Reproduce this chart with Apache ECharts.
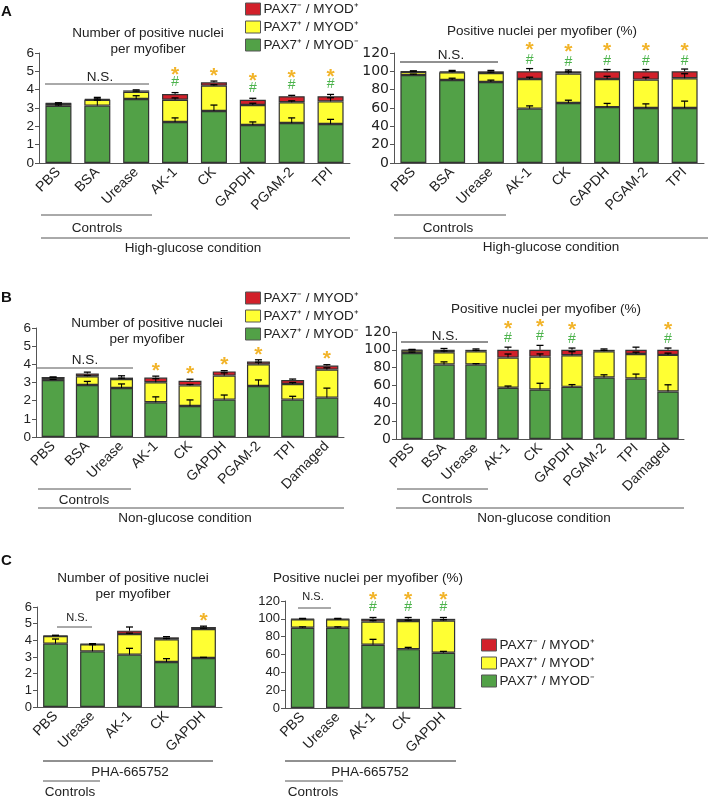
<!DOCTYPE html>
<html><head><meta charset="utf-8">
<script src="https://cdn.jsdelivr.net/npm/echarts@6/dist/echarts.min.js"></script>
<style>html,body{margin:0;padding:0;background:#fff}#c{width:708px;height:800px}</style>
</head><body><div id="c"></div>
<script>
const NAME_R = 'PAX7⁻ / MYOD⁺';
const NAME_Y = 'PAX7⁺ / MYOD⁺';
const NAME_G = 'PAX7⁺ / MYOD⁻';

// categories
const catsHighGlucose = ['PBS','BSA','Urease','AK-1','CK','GAPDH','PGAM-2','TPI'];
const catsNonGlucose = ['PBS','BSA','Urease','AK-1','CK','GAPDH','PGAM-2','TPI','Damaged'];
const catsPHA = ['PBS','Urease','AK-1','CK','GAPDH'];

// tick settings
const numTicks = [0,1,2,3,4,5,6];
const pctTicks = [0,20,40,60,80,100,120];

// Panel A, number per myofiber
const aNumGreen  = [3.12,3.13,3.49,2.24,2.84,2.07,2.18,2.13];
const aNumYellow = [0.12,0.32,0.40,1.21,1.38,1.09,1.13,1.23];
const aNumRed    = [0.02,0.05,0.07,0.31,0.18,0.29,0.33,0.28];
const aNumGreenErr  = [0.05,0.30,0.18,0.22,0.32,0.17,0.28,0.25];
const aNumYellowErr = [0.03,0.05,0.03,0.10,0.05,0.10,0.08,0.20];
const aNumRedErr    = [0.02,0.08,0.03,0.08,0.07,0.08,0.05,0.10];
const aNumStar = [0,0,0,1,1,1,1,1];
const aNumHash = [0,0,0,1,0,1,1,1];

// Panel A, percent
const aPctGreen  = [96.0,90.5,88.4,59.3,65.5,61.0,60.0,60.0];
const aPctYellow = [3.6,8.5,9.8,32.3,32.0,30.6,31.0,32.4];
const aPctRed    = [0.4,1.0,1.8,8.4,2.5,8.4,9.0,7.6];
const aPctGreenErr  = [1,2,2,3,3,4,4.5,7.5];
const aPctYellowErr = [0.5,1,1,2,2,3,2.5,5];
const aPctRedErr    = [0.5,1,1,3,1.5,2,2,2.5];
const aPctStar = [0,0,0,1,1,1,1,1];
const aPctHash = [0,0,0,1,1,1,1,1];

// Panel B, number per myofiber
const bNumGreen  = [3.14,2.86,2.70,1.91,1.71,2.06,2.81,2.06,2.17];
const bNumYellow = [0.13,0.48,0.49,1.10,1.13,1.32,1.19,0.86,1.54];
const bNumRed    = [0.01,0.15,0.08,0.26,0.26,0.23,0.15,0.22,0.22];
const bNumGreenErr  = [0.03,0.20,0.22,0.30,0.33,0.25,0.33,0.18,0.52];
const bNumYellowErr = [0.02,0.05,0.05,0.20,0.05,0.15,0.12,0.08,0.10];
const bNumRedErr    = [0.02,0.08,0.10,0.08,0.08,0.04,0.10,0.05,0.05];
const bNumStar = [0,0,0,1,1,1,1,0,1];
const bNumHash = [0,0,0,0,0,0,0,0,0];

// Panel B, percent
const bPctGreen  = [96.5,83.5,83.5,57.4,55.5,58.5,69.0,67.8,53.3];
const bPctYellow = [3.0,13.8,14.9,33.9,36.9,35.4,29.4,27.6,41.0];
const bPctRed    = [0.5,2.7,1.6,8.7,7.6,6.1,1.6,4.6,5.7];
const bPctGreenErr  = [1,3,1,2,7,2.5,3,5,7.5];
const bPctYellowErr = [0.5,1.5,1,4,3,4,1,2,2];
const bPctRedErr    = [0.5,1.5,1,3,5,2,1,3,2];
const bPctStar = [0,0,0,1,1,1,0,0,1];
const bPctHash = [0,0,0,1,1,1,0,0,1];

// Panel C, number per myofiber
const cNumGreen  = [3.80,3.34,3.14,2.70,2.94];
const cNumYellow = [0.46,0.42,1.24,1.36,1.74];
const cNumRed    = [0.02,0.02,0.20,0.12,0.12];
const cNumGreenErr  = [0.28,0.40,0.38,0.20,0.04];
const cNumYellowErr = [0.03,0.02,0.05,0.05,0.05];
const cNumRedErr    = [0.02,0.02,0.22,0.04,0.05];
const cNumStar = [0,0,0,0,1];
const cNumHash = [0,0,0,0,0];

// Panel C, percent
const cPctGreen  = [90,90,71,66,62];
const cPctYellow = [9.5,9.5,26,31.5,36];
const cPctRed    = [0.5,0.5,3,2.5,2];
const cPctGreenErr  = [1,1,6,2,1.5];
const cPctYellowErr = [0.5,0.5,1,1,1];
const cPctRedErr    = [0.5,0.5,1.5,1.5,1.5];
const cPctStar = [0,0,1,1,1];
const cPctHash = [0,0,1,1,1];

const FONT = '"Liberation Sans", Arial, Helvetica, sans-serif';
const WIDE = '"DejaVu Sans", Verdana, sans-serif';
const C_RED = '#d2202a', C_YEL = '#ffff33', C_GRN = '#52a147';
const C_STAR = '#f2b42a', C_HASH = '#4cb34c';

const panels = [
  {cats:catsHighGlucose, g:aNumGreen, y:aNumYellow, r:aNumRed, ge:aNumGreenErr, ye:aNumYellowErr, re:aNumRedErr, star:aNumStar, hash:aNumHash, ticks:numTicks,
   grid:{left:39, top:53, width:311, height:110}, gap1:10, gap2:12, yFont:FONT, ySize:13.5},
  {cats:catsHighGlucose, g:aPctGreen, y:aPctYellow, r:aPctRed, ge:aPctGreenErr, ye:aPctYellowErr, re:aPctRedErr, star:aPctStar, hash:aPctHash, ticks:pctTicks,
   grid:{left:394, top:53, width:310, height:110}, gap1:8, gap2:15, yFont:WIDE, ySize:14},
  {cats:catsNonGlucose, g:bNumGreen, y:bNumYellow, r:bNumRed, ge:bNumGreenErr, ye:bNumYellowErr, re:bNumRedErr, star:bNumStar, hash:bNumHash, ticks:numTicks,
   grid:{left:36, top:328, width:308, height:109}, gap1:10, gap2:12, yFont:FONT, ySize:13.5},
  {cats:catsNonGlucose, g:bPctGreen, y:bPctYellow, r:bPctRed, ge:bPctGreenErr, ye:bPctYellowErr, re:bPctRedErr, star:bPctStar, hash:bPctHash, ticks:pctTicks,
   grid:{left:396, top:332, width:288, height:107}, gap1:9, gap2:14, yFont:WIDE, ySize:14},
  {cats:catsPHA, g:cNumGreen, y:cNumYellow, r:cNumRed, ge:cNumGreenErr, ye:cNumYellowErr, re:cNumRedErr, star:cNumStar, hash:cNumHash, ticks:numTicks,
   grid:{left:37, top:607, width:185, height:100}, gap1:10, gap2:12, yFont:FONT, ySize:13},
  {cats:catsPHA, g:cPctGreen, y:cPctYellow, r:cPctRed, ge:cPctGreenErr, ye:cPctYellowErr, re:cPctRedErr, star:cPctStar, hash:cPctHash, ticks:pctTicks,
   grid:{left:285, top:601, width:176, height:107}, gap1:10, gap2:12, yFont:FONT, ySize:13}
];

const grids = [], xAxes = [], yAxes = [], series = [];
panels.forEach((p, k) => {
  grids.push(Object.assign({outerBoundsMode:'none', containLabel:false}, p.grid));
  xAxes.push({gridIndex:k, type:'category', data:p.cats,
    axisLine:{lineStyle:{color:'#555', width:1}},
    axisTick:{length:4, lineStyle:{color:'#555'}},
    axisLabel:{rotate:45, interval:0, fontSize:14, color:'#222', fontFamily:FONT, margin:7}});
  const tk = p.ticks;
  yAxes.push({gridIndex:k, type:'value', min:tk[0], max:tk[tk.length-1], interval:tk[1]-tk[0],
    axisLine:{show:true, lineStyle:{color:'#555', width:1}},
    axisTick:{show:true, length:4, lineStyle:{color:'#555'}},
    splitLine:{show:false},
    axisLabel:{fontSize:p.ySize, color:'#222', fontFamily:p.yFont, margin:5}});
  const bs = {type:'bar', stack:'s'+k, xAxisIndex:k, yAxisIndex:k, barWidth:'67%', animation:false};
  const border = {borderColor:'#333', borderWidth:1.2};
  series.push(Object.assign({}, bs, {name:NAME_G, data:p.g, itemStyle:Object.assign({color:C_GRN}, border)}));
  series.push(Object.assign({}, bs, {name:NAME_Y, data:p.y, itemStyle:Object.assign({color:C_YEL}, border)}));
  series.push(Object.assign({}, bs, {name:NAME_R, data:p.r, itemStyle:Object.assign({color:C_RED}, border)}));
  const errData = [];
  p.cats.forEach((c, i) => {
    const b1 = p.g[i], b2 = b1 + p.y[i], b3 = b2 + p.r[i];
    errData.push([i, b1, p.ge[i]]);
    errData.push([i, b2, p.ye[i]]);
    errData.push([i, b3, p.re[i]]);
  });
  series.push({type:'custom', name:'err'+k, xAxisIndex:k, yAxisIndex:k, z:5, animation:false, data:errData,
    renderItem:(params, api) => {
      const x = api.value(0), y0 = api.value(1), e = api.value(2);
      const a = api.coord([x, y0]), b = api.coord([x, y0 + e]);
      return {type:'group', children:[
        {type:'line', shape:{x1:a[0], y1:a[1], x2:b[0], y2:b[1]}, style:{stroke:'#000', lineWidth:1}},
        {type:'line', shape:{x1:b[0]-3.5, y1:b[1], x2:b[0]+3.5, y2:b[1]}, style:{stroke:'#000', lineWidth:1.3}}
      ]};
    }});
  const sigData = [];
  p.cats.forEach((c, i) => {
    if (p.star[i]) sigData.push([i, p.g[i] + p.y[i] + p.r[i] + p.re[i], p.hash[i]]);
  });
  const gap1 = p.gap1, gap2 = p.gap2;
  series.push({type:'custom', name:'sig'+k, xAxisIndex:k, yAxisIndex:k, z:6, animation:false, data:sigData,
    renderItem:(params, api) => {
      const x = api.value(0), top = api.value(1), h = api.value(2);
      const pt = api.coord([x, top]);
      const ch = [];
      let yy = pt[1] - gap1;
      if (h) {
        ch.push({type:'text', style:{text:'#', x:pt[0], y:yy, textAlign:'center', align:'center', textVerticalAlign:'middle', verticalAlign:'middle', fill:C_HASH, font:'14px ' + FONT}});
        yy -= gap2;
      }
      ch.push({type:'text', style:{text:'*', x:pt[0], y:yy + 5, textAlign:'center', align:'center', textVerticalAlign:'middle', verticalAlign:'middle', fill:C_STAR, font:'bold 21px ' + FONT}});
      return {type:'group', children:ch};
    }});
});

function T(text, x, y, size, opts) {
  return Object.assign({type:'text', style:{text:text, x:x, y:y, textAlign:'center', align:'center', textVerticalAlign:'middle', verticalAlign:'middle', fill:'#222', font:(size||13.5)+'px ' + FONT}}, opts||{});
}
function L(x1, y1, x2, y2, color) {
  return {type:'line', shape:{x1:x1, y1:y1, x2:x2, y2:y2}, style:{stroke:color||'#555', lineWidth:1}};
}
const graphics = [
  // panel letters
  {type:'text', style:{text:'A', x:1, y:4, fill:'#111', font:'bold 15px ' + FONT}},
  {type:'text', style:{text:'B', x:1, y:290, fill:'#111', font:'bold 15px ' + FONT}},
  {type:'text', style:{text:'C', x:1, y:553, fill:'#111', font:'bold 15px ' + FONT}},
  // A left
  T('Number of positive nuclei', 148, 33), T('per myofiber', 148, 49),
  T('N.S.', 100, 77), L(45, 84, 149, 84),
  L(41, 215, 152, 215), T('Controls', 97, 228),
  L(41, 238, 350, 238), T('High-glucose condition', 193, 248),
  // A right
  T('Positive nuclei per myofiber (%)', 542, 31),
  T('N.S.', 451, 55), L(400, 62, 498, 62, '#222'),
  L(394, 215, 506, 215), T('Controls', 448, 228),
  L(394, 238, 708, 238), T('High-glucose condition', 551, 247),
  // B left
  T('Number of positive nuclei', 147, 323), T('per myofiber', 147, 339),
  T('N.S.', 85, 360), L(36, 368, 133, 368),
  L(38, 489, 131, 489), T('Controls', 84, 500),
  L(38, 508, 344, 508), T('Non-glucose condition', 185, 518),
  // B right
  T('Positive nuclei per myofiber (%)', 546, 309),
  T('N.S.', 445, 336), L(401, 342, 488, 342, '#222'),
  L(397, 489, 488, 489), T('Controls', 447, 499),
  L(396, 508, 684, 508), T('Non-glucose condition', 544, 518),
  // C left
  T('Number of positive nuclei', 133, 578), T('per myofiber', 133, 594),
  T('N.S.', 77, 618, 11), L(57, 627, 92, 627),
  L(43, 761, 213, 761, '#222'), T('PHA-665752', 130, 772),
  L(43, 781, 100, 781), T('Controls', 70, 792),
  // C right
  T('Positive nuclei per myofiber (%)', 368, 578),
  T('N.S.', 313, 597, 11), L(298, 608, 331, 608),
  L(285, 761, 456, 761, '#222'), T('PHA-665752', 370, 772),
  L(285, 781, 343, 781), T('Controls', 313, 792)
];

const legendBase = {data:[NAME_R, NAME_Y, NAME_G], orient:'vertical', padding:0, itemWidth:15, itemHeight:12, itemGap:4, selectedMode:false,
  icon:'rect', textStyle:{fontSize:13.5, color:'#222', fontFamily:FONT, padding:[0,0,0,-2]}, itemStyle:{borderColor:'#555', borderWidth:1}};
const legends = [
  Object.assign({left:245, top:2}, legendBase),
  Object.assign({left:245, top:291}, legendBase),
  Object.assign({left:481, top:638}, legendBase)
];

const chart = echarts.init(document.getElementById('c'), null, {renderer:'canvas'});
chart.setOption({
  backgroundColor:'#fff',
  animation:false,
  textStyle:{fontFamily:FONT},
  grid:grids, xAxis:xAxes, yAxis:yAxes, series:series,
  legend:legends, graphic:graphics
});
</script></body></html>
